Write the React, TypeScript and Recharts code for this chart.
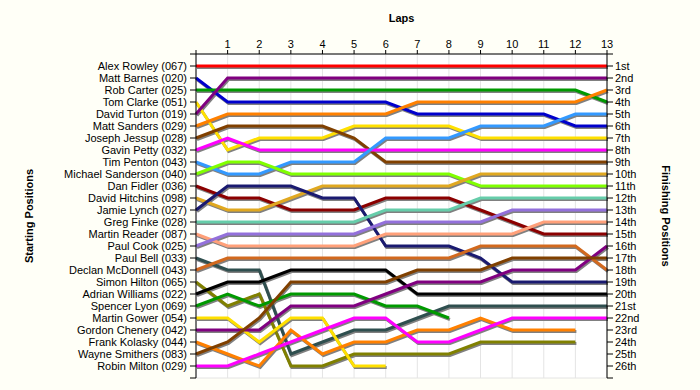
import React from 'react';
import { LineChart, Line, XAxis, YAxis, CartesianGrid } from 'recharts';

// starting grid, in order
const DRIVERS = [
  'Alex Rowley (067)', 'Matt Barnes (020)', 'Rob Carter (025)', 'Tom Clarke (051)',
  'David Turton (019)', 'Matt Sanders (029)', 'Joseph Jessup (028)', 'Gavin Petty (032)',
  'Tim Penton (043)', 'Michael Sanderson (040)', 'Dan Fidler (036)', 'David Hitchins (098)',
  'Jamie Lynch (027)', 'Greg Finke (028)', 'Martin Reader (087)', 'Paul Cook (025)',
  'Paul Bell (033)', 'Declan McDonnell (043)', 'Simon Hilton (065)', 'Adrian Williams (022)',
  'Spencer Lyon (069)', 'Martin Gower (054)', 'Gordon Chenery (042)', 'Frank Kolasky (044)',
  'Wayne Smithers (083)', 'Robin Milton (029)',
];

const COLORS = [
  '#ff0000', '#0000cc', '#009900', '#ffe000', '#800080', '#ff8000', '#804000', '#ff00ff',
  '#3399ff', '#80ff00', '#8b0000', '#e0a820', '#1a1a70', '#66cdaa', '#ffa07a', '#9370db',
  '#2f4f4f', '#d2691e', '#808000', '#000000', '#009900', '#ffe000', '#800080', '#ff8000',
  '#804000', '#ff00ff',
];

const LAPS = [0, 1, 2, 3, 4, 5, 6, 7, 8, 9, 10, 11, 12, 13];

// position at the end of each lap (lap 0 = grid), null once retired
const POSITIONS: (number | null)[][] = [
  [1, 1, 1, 1, 1, 1, 1, 1, 1, 1, 1, 1, 1, 1],
  [2, 4, 4, 4, 4, 4, 4, 5, 5, 5, 5, 5, 6, 6],
  [3, 3, 3, 3, 3, 3, 3, 3, 3, 3, 3, 3, 3, 4],
  [4, 8, 7, 7, 7, 6, 6, 6, 6, 7, 7, 7, 7, 7],
  [5, 2, 2, 2, 2, 2, 2, 2, 2, 2, 2, 2, 2, 2],
  [6, 5, 5, 5, 5, 5, 5, 4, 4, 4, 4, 4, 4, 3],
  [7, 6, 6, 6, 6, 7, 9, 9, 9, 9, 9, 9, 9, 9],
  [8, 7, 8, 8, 8, 8, 8, 8, 8, 8, 8, 8, 8, 8],
  [9, 10, 10, 9, 9, 9, 7, 7, 7, 6, 6, 6, 5, 5],
  [10, 9, 9, 10, 10, 10, 10, 10, 10, 11, 11, 11, 11, 11],
  [11, 12, 12, 13, 13, 13, 12, 12, 12, 13, 14, 15, 15, 15],
  [12, 13, 13, 12, 11, 11, 11, 11, 11, 10, 10, 10, 10, 10],
  [13, 11, 11, 11, 12, 12, 16, 16, 16, 17, 19, 19, 19, 19],
  [14, 14, 14, 14, 14, 14, 13, 13, 13, 12, 12, 12, 12, 12],
  [15, 16, 16, 16, 16, 16, 15, 15, 15, 15, 15, 14, 14, 14],
  [16, 15, 15, 15, 15, 15, 14, 14, 14, 14, 13, 13, 13, 13],
  [17, 18, 18, 25, 24, 23, 23, 22, 21, 21, 21, 21, 21, 21],
  [18, 17, 17, 17, 17, 17, 17, 17, 17, 16, 16, 16, 16, 18],
  [19, 21, 20, 26, 26, 25, 25, 25, 25, 24, 24, 24, 24, null],
  [20, 19, 19, 18, 18, 18, 18, 20, 20, 20, 20, 20, 20, 20],
  [21, 20, 21, 20, 20, 20, 21, 21, 22, null, null, null, null, null],
  [22, 22, 24, 22, 22, 26, 26, null, null, null, null, null, null, null],
  [23, 23, 23, 21, 21, 21, 20, 19, 19, 19, 18, 18, 18, 16],
  [24, 25, 26, 23, 25, 24, 24, 23, 23, 22, 23, 23, 23, null],
  [25, 24, 22, 19, 19, 19, 19, 18, 18, 18, 17, 17, 17, 17],
  [26, 26, 25, 24, 23, 22, 22, 24, 24, 23, 22, 22, 22, 22],
];

const POS_TICKS = Array.from({ length: 28 }, (_, i) => i);

const ordinal = (n: number) => {
  if (n < 1 || n > DRIVERS.length) return '';
  const t = n % 10;
  if (t === 1 && n !== 11) return `${n}st`;
  if (t === 2 && n !== 12) return `${n}nd`;
  if (t === 3 && n !== 13) return `${n}rd`;
  return `${n}th`;
};

const data = LAPS.map((lap) => {
  const row: Record<string, number | null> = { lap };
  POSITIONS.forEach((p, i) => { row[`d${i}`] = p[lap]; });
  return row;
});

const tickFont = { fontSize: 11, fill: '#000', fontFamily: '"Liberation Sans", Arial, sans-serif' };
const titleStyle = { fontSize: 11, fontWeight: 700, fill: '#000', fontFamily: '"Liberation Sans", Arial, sans-serif' };

export default function App() {
  return (
    <div style={{ width: 700, height: 390, background: '#fffff7' }}>
      <style>{`body{margin:0} .lap-shadow{transform:translate(1px,1.5px)}`}</style>
      <LineChart width={700} height={390} data={data} margin={{ top: 0, right: 0, bottom: 12, left: 0 }}>
        <CartesianGrid stroke="#e4e4e4" fill="#ffffff" />
        <XAxis
          dataKey="lap"
          type="number"
          orientation="top"
          domain={[0, 13]}
          ticks={LAPS}
          interval={0}
          height={54}
          tickSize={4}
          tickMargin={2}
          tick={tickFont}
          stroke="#000"
          tickFormatter={(v) => (v === 0 ? '' : String(v))}
          label={{ value: 'Laps', position: 'insideTop', offset: 14, style: titleStyle }}
        />
        <YAxis
          yAxisId="left"
          type="number"
          reversed
          domain={[0, 27]}
          ticks={POS_TICKS}
          interval={0}
          width={196}
          tickSize={6}
          tickMargin={3}
          tick={tickFont}
          stroke="#000"
          tickFormatter={(v) => DRIVERS[v - 1] ?? ''}
          label={{
            content: () => (
              <text x={29} y={216} transform="rotate(-90 29 216)" textAnchor="middle" dominantBaseline="central" style={titleStyle}>
                Starting Positions
              </text>
            ),
          }}
        />
        <YAxis
          yAxisId="right"
          orientation="right"
          type="number"
          reversed
          domain={[0, 27]}
          ticks={POS_TICKS}
          interval={0}
          width={93}
          tickSize={6}
          tickMargin={2}
          tick={tickFont}
          stroke="#000"
          tickFormatter={(v) => ordinal(v)}
          label={{
            content: () => (
              <text x={666} y={216} transform="rotate(90 666 216)" textAnchor="middle" dominantBaseline="central" style={titleStyle}>
                Finishing Positions
              </text>
            ),
          }}
        />
        {DRIVERS.map((name, i) => (
          <Line
            key={`s${i}`}
            className="lap-shadow"
            yAxisId="right"
            dataKey={`d${i}`}
            stroke="#808080"
            strokeWidth={3}
            dot={false}
            activeDot={false}
            type="linear"
            isAnimationActive={false}
          />
        ))}
        {DRIVERS.map((name, i) => (
          <Line
            key={`l${i}`}
            yAxisId="left"
            dataKey={`d${i}`}
            name={name}
            stroke={COLORS[i]}
            strokeWidth={3}
            dot={false}
            activeDot={false}
            type="linear"
            isAnimationActive={false}
          />
        ))}
      </LineChart>
    </div>
  );
}
